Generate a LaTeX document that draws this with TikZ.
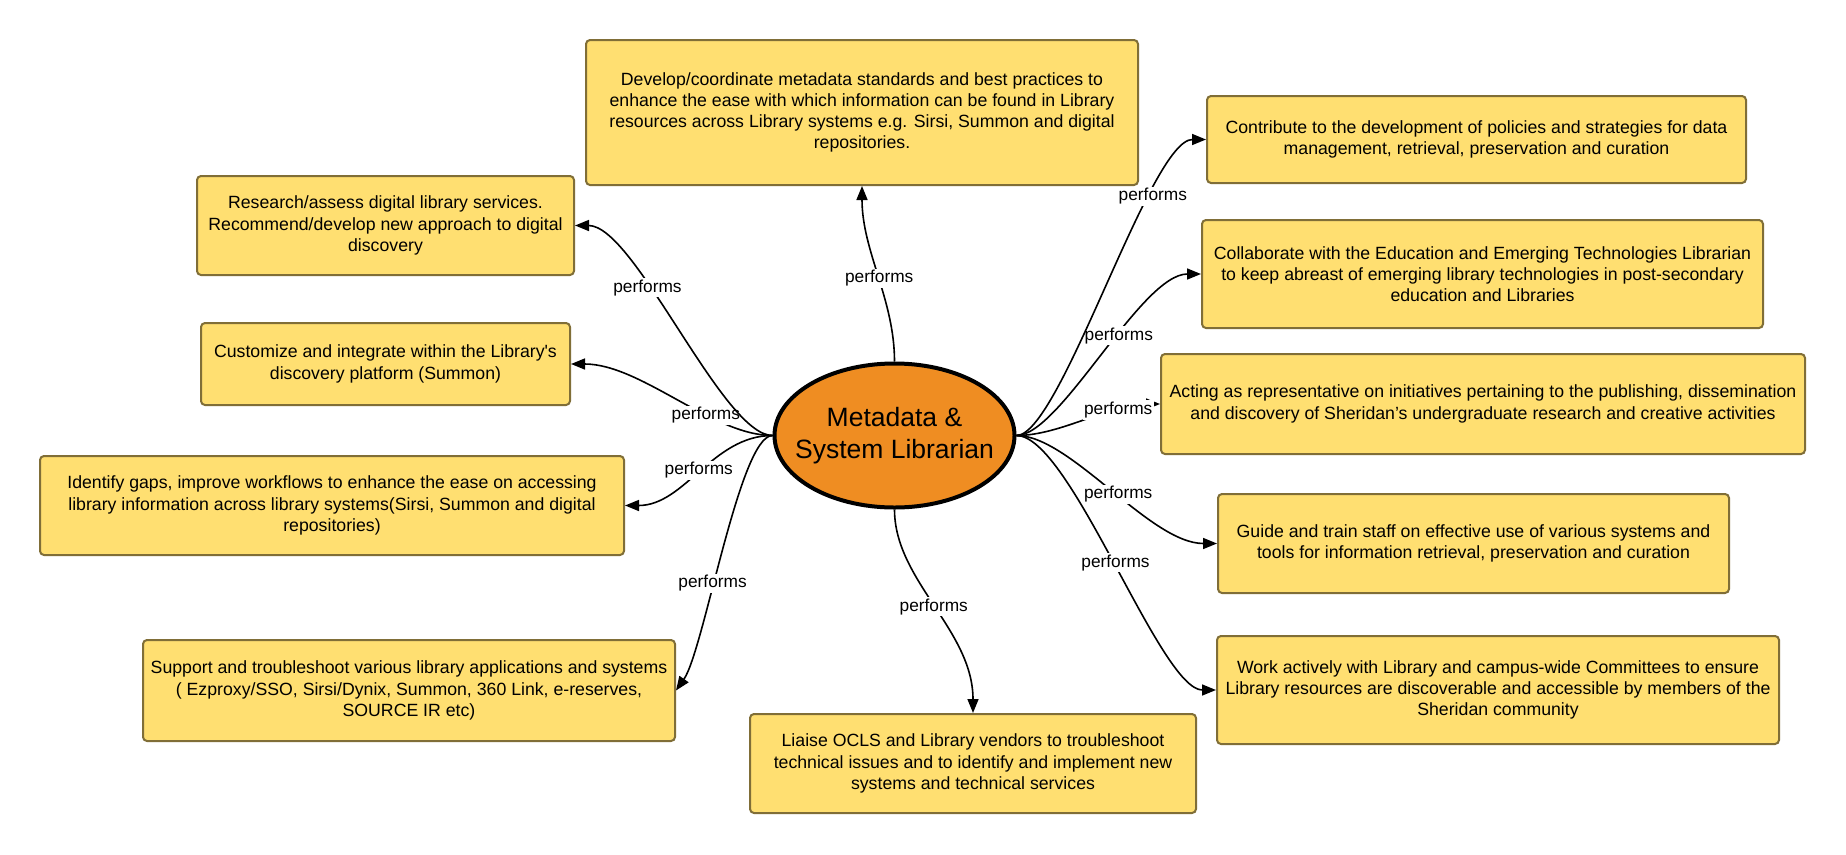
\documentclass[tikz,border=0pt]{standalone}
\usepackage{fontspec}
\setmainfont{Liberation Sans}
\newfontfamily\lsans{Liberation Sans}
\usetikzlibrary{arrows.meta,shapes.geometric}
\definecolor{boxfill}{RGB}{255,223,113}
\definecolor{boxline}{RGB}{128,110,55}
\definecolor{elfill}{RGB}{239,141,34}
\begin{document}
\begin{tikzpicture}[x=1pt,y=-1pt,
 task/.style={draw=boxline, fill=boxfill, line width=2pt, rounded corners=4pt, align=center, inner sep=0pt, font=\lsans\fontsize{17.7}{21.2}\selectfont},
 role/.style={ellipse, draw=black, fill=elfill, line width=4pt, minimum width=240pt, minimum height=144pt, inner xsep=-16pt, inner ysep=0pt, align=center, font=\lsans\fontsize{26.5}{32}\selectfont},
 rel/.style={draw=black, line width=1.6pt, -{Triangle[length=14pt,width=11pt]}},
 lbl/.style={fill=white, inner sep=1.5pt, font=\lsans\fontsize{17.3}{20}\selectfont}]
\useasboundingbox[fill=white] (0,0) rectangle (1846,854);

\node[role] (el) at (894.5,435.5) {Metadata \&\\System Librarian};

\node[task, minimum width=552pt, minimum height=145pt] (topb) at (862,112.5)
 {Develop/coordinate metadata standards and best practices to\\enhance the ease with which information can be found in Library\\resources across Library systems e.g. Sirsi, Summon and digital\\repositories.};
\node[task, minimum width=377pt, minimum height=99pt] (research) at (385.5,225.5)
 {Research/assess digital library services.\\Recommend/develop new approach to digital\\discovery};
\node[task, minimum width=369pt, minimum height=82pt] (cust) at (385.5,364)
 {Customize and integrate within the Library's\\discovery platform (Summon)};
\node[task, minimum width=584pt, minimum height=99pt] (ident) at (332,505.5)
 {Identify gaps, improve workflows to enhance the ease on accessing\\library information across library systems(Sirsi, Summon and digital\\repositories)};
\node[task, minimum width=532pt, minimum height=101pt] (supp) at (409,690.5)
 {Support and troubleshoot various library applications and systems\\( Ezproxy/SSO, Sirsi/Dynix, Summon, 360 Link, e-reserves,\\SOURCE IR etc)};
\node[task, minimum width=446pt, minimum height=99pt] (liaise) at (973,763.5)
 {Liaise OCLS and Library vendors to troubleshoot\\technical issues and to identify and implement new\\systems and technical services};
\node[task, minimum width=539pt, minimum height=87pt] (contr) at (1476.5,139.5)
 {Contribute to the development of policies and strategies for data\\management, retrieval, preservation and curation};
\node[task, minimum width=561pt, minimum height=108pt] (collab) at (1482.5,274)
 {Collaborate with the Education and Emerging Technologies Librarian\\to keep abreast of emerging library technologies in post-secondary\\education and Libraries};
\node[task, minimum width=644pt, minimum height=100pt] (acting) at (1483,404)
 {Acting as representative on initiatives pertaining to the publishing, dissemination\\and discovery of Sheridan’s undergraduate research and creative activities};
\node[task, minimum width=511pt, minimum height=99pt] (guide) at (1473.5,543.5)
 {Guide and train staff on effective use of various systems and\\tools for information retrieval, preservation and curation};
\node[task, minimum width=562pt, minimum height=108pt] (work) at (1498,690)
 {Work actively with Library and campus-wide Committees to ensure\\Library resources are discoverable and accessible by members of the\\Sheridan community};

\draw[rel] (el.north) .. controls +(0,-62) and +(0,65) .. node[lbl,pos=0.48] {performs} (topb.south);
\draw[rel] (el.west) .. controls +(-60,0) and +(70,0) .. node[lbl,pos=0.35] {performs} (cust.east);
\draw[rel] (el.west) .. controls +(-50,0) and +(60,0) .. node[lbl,pos=0.64] {performs} (research.east);
\draw[rel] (el.west) .. controls +(-60,0) and +(60,0) .. node[lbl,pos=0.5] {performs} (ident.east);
\draw[rel] (el.west) .. controls +(-33,0) and +(28,-40) .. node[lbl,pos=0.6] {performs} (supp.east);
\draw[rel] (el.south) .. controls +(0,71) and +(0,-83) .. node[lbl,pos=0.5] {performs} (liaise.north);
\draw[rel] (el.east) .. controls +(44,0) and +(-60,0) .. node[lbl,pos=0.58] {performs} (collab.west);
\draw[rel] (el.east) .. controls +(44,0) and +(-56,0) .. node[lbl,pos=0.72] {performs} (contr.west);
\draw[rel] (el.east) .. controls +(44,0) and +(-50,0) .. node[lbl,pos=0.72] {performs} (acting.west);
\draw[rel] (el.east) .. controls +(54,0) and +(-67,0) .. node[lbl,pos=0.53] {performs} (guide.west);
\draw[rel] (el.east) .. controls +(54,0) and +(-56,0) .. node[lbl,pos=0.5] {performs} (work.west);
\end{tikzpicture}
\end{document}
